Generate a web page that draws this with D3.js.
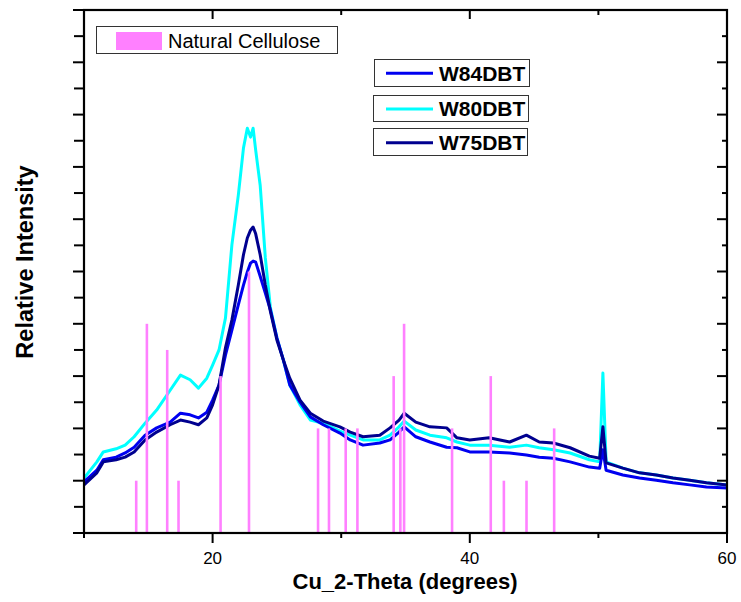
<!DOCTYPE html>
<html>
<head>
<meta charset="utf-8">
<script src="https://cdn.jsdelivr.net/npm/d3@7"></script>
<style>
  html, body { margin: 0; padding: 0; background: #fff; }
  svg { display: block; font-family: Arial, "Liberation Sans", sans-serif; }
</style>
</head>
<body>
<svg id="chart" width="741" height="602"></svg>
<script>
// 2-theta positions shared by the three patterns
const theta = [10, 11, 11.5, 12.5, 13.2, 13.9, 14.75, 15.65, 16.7, 17.5,
  18.25, 18.9, 19.55, 20, 20.5, 21, 21.5, 22, 22.4, 22.7,
  22.95, 23.15, 23.35, 23.7, 24.1, 24.5, 25, 25.5, 26, 26.8,
  27.6, 28.6, 29.9, 30.7, 31.7, 33, 33.8, 34.5, 34.9, 35.8,
  36.9, 38.2, 39, 40, 41.5, 43.1, 44.4, 45.4, 46.5, 47.8,
  49.3, 50.1, 50.35, 50.6, 51.9, 53.2, 54.5, 55.8, 57.1, 58.4, 60];

const w84 = [0.98, 1.20, 1.40, 1.45, 1.53, 1.64, 1.87, 2.01, 2.12, 2.29,
  2.26, 2.20, 2.31, 2.54, 2.83, 3.40, 3.88, 4.36, 4.74, 4.99,
  5.16, 5.20, 5.18, 4.91, 4.59, 4.26, 3.73, 3.31, 2.83, 2.50,
  2.22, 2.07, 1.91, 1.78, 1.68, 1.72, 1.78, 1.93, 2.03, 1.84,
  1.74, 1.64, 1.63, 1.55, 1.55, 1.53, 1.49, 1.45, 1.43, 1.36,
  1.26, 1.24, 1.59, 1.20, 1.11, 1.05, 1.01, 0.96, 0.92, 0.88, 0.86];

const w80 = [1.05, 1.36, 1.55, 1.61, 1.68, 1.84, 2.10, 2.35, 2.73, 3.02,
  2.93, 2.77, 2.96, 3.21, 3.50, 4.11, 5.51, 6.46, 7.36, 7.74,
  7.57, 7.74, 7.32, 6.65, 5.26, 4.30, 3.73, 3.31, 2.83, 2.45,
  2.16, 2.10, 1.95, 1.87, 1.78, 1.78, 1.87, 2.03, 2.14, 1.97,
  1.87, 1.82, 1.74, 1.68, 1.68, 1.64, 1.68, 1.63, 1.59, 1.53,
  1.40, 1.36, 3.06, 1.36, 1.24, 1.15, 1.11, 1.05, 1.01, 0.96, 0.92];

const w75 = [0.92, 1.15, 1.36, 1.40, 1.45, 1.55, 1.78, 1.93, 2.07, 2.16,
  2.12, 2.07, 2.20, 2.45, 2.83, 3.54, 4.07, 4.74, 5.32, 5.64,
  5.79, 5.85, 5.72, 5.32, 4.74, 4.23, 3.69, 3.31, 2.96, 2.54,
  2.29, 2.14, 2.03, 1.93, 1.84, 1.87, 2.01, 2.16, 2.29, 2.12,
  2.03, 2.01, 1.82, 1.78, 1.82, 1.74, 1.87, 1.74, 1.72, 1.63,
  1.47, 1.43, 2.03, 1.34, 1.24, 1.15, 1.11, 1.05, 1.01, 0.96, 0.92];

// reference pattern for natural cellulose (stick positions and heights)
const stickPos = [14.06, 14.89, 16.47, 17.35, 20.62, 22.83, 28.2, 29.05, 30.35, 31.26,
  34.08, 34.6, 34.89, 38.62, 41.63, 42.65, 44.41, 46.56];
const stickHeight = [1, 4, 3.5, 1, 3, 5, 2, 2, 2, 2,
  3, 2, 4, 2, 3, 1, 1, 2];

const seriesNames = ["W84DBT", "W80DBT", "W75DBT"];
const seriesColors = ["#0000f0", "#00ffff", "#00008f"];
const xTickLabels = [20, 40, 60];

const svg = d3.select("#chart");

const margin = { left: 84, right: 727, top: 10, bottom: 533 };

const x = d3.scaleLinear().domain([10, 60]).range([margin.left, margin.right]);
const y = d3.scaleLinear().domain([0, 10]).range([margin.bottom, margin.top]);

// Curves ----------
const line = d3.line()
  .x(d => x(d[0]))
  .y(d => y(d[1]));

const drawOrder = [1, 0, 2];
const allSeries = [w84, w80, w75];
drawOrder.forEach(i => {
  svg.append("path")
    .datum(theta.map((t, k) => [t, allSeries[i][k]]))
    .attr("fill", "none")
    .attr("stroke", seriesColors[i])
    .attr("stroke-width", 3)
    .attr("stroke-linejoin", "round")
    .attr("d", line);
});

// Sticks (drawn over the curves) ----------
svg.selectAll(".stick")
  .data(stickPos.map((p, i) => ({ pos: p, h: stickHeight[i] })))
  .enter()
  .append("line")
  .attr("class", "stick")
  .attr("x1", d => x(d.pos))
  .attr("x2", d => x(d.pos))
  .attr("y1", y(0))
  .attr("y2", d => y(d.h))
  .attr("stroke", "#ff80ff")
  .attr("stroke-width", 2.6);

// Axes ----------
const majorX = d3.range(20, 61, 20);
const minorX = [10, 30, 50];
const majorY = d3.range(0, 11, 1);
const minorY = d3.range(0.5, 10, 1);

const axisG = svg.append("g").attr("stroke", "#000");

// bottom (outward) and top (inward)
majorX.forEach(v => {
  axisG.append("line").attr("x1", x(v)).attr("x2", x(v)).attr("y1", y(0)).attr("y2", y(0) + 10).attr("stroke-width", 2);
  axisG.append("line").attr("x1", x(v)).attr("x2", x(v)).attr("y1", y(10)).attr("y2", y(10) + 9).attr("stroke-width", 2);
});
minorX.forEach(v => {
  axisG.append("line").attr("x1", x(v)).attr("x2", x(v)).attr("y1", y(0)).attr("y2", y(0) + 5).attr("stroke-width", 2);
  axisG.append("line").attr("x1", x(v)).attr("x2", x(v)).attr("y1", y(10)).attr("y2", y(10) + 5).attr("stroke-width", 2);
});

// left (outward) and right (inward)
majorY.forEach(v => {
  axisG.append("line").attr("x1", x(10) - 11).attr("x2", x(10)).attr("y1", y(v)).attr("y2", y(v)).attr("stroke-width", 2);
  axisG.append("line").attr("x1", x(60) - 10).attr("x2", x(60)).attr("y1", y(v)).attr("y2", y(v)).attr("stroke-width", 2);
});
minorY.forEach(v => {
  axisG.append("line").attr("x1", x(10) - 10).attr("x2", x(10)).attr("y1", y(v)).attr("y2", y(v)).attr("stroke-width", 2);
  axisG.append("line").attr("x1", x(60) - 5).attr("x2", x(60)).attr("y1", y(v)).attr("y2", y(v)).attr("stroke-width", 2);
});

// frame
axisG.append("rect")
  .attr("x", x(10))
  .attr("y", y(10))
  .attr("width", x(60) - x(10))
  .attr("height", y(0) - y(10))
  .attr("fill", "none")
  .attr("stroke-width", 2.2);

svg.selectAll(".xlab")
  .data(xTickLabels)
  .enter()
  .append("text")
  .attr("x", d => x(d))
  .attr("y", 564)
  .attr("text-anchor", "middle")
  .attr("font-size", 17)
  .text(d => d);

// Titles ----------
svg.append("text")
  .attr("x", 405)
  .attr("y", 589)
  .attr("text-anchor", "middle")
  .attr("font-size", 22)
  .attr("font-weight", "bold")
  .text("Cu_2-Theta (degrees)");

svg.append("text")
  .attr("transform", "translate(33,262) rotate(-90)")
  .attr("text-anchor", "middle")
  .attr("font-size", 23.5)
  .attr("font-weight", "bold")
  .text("Relative Intensity");

// Legends ----------
svg.append("rect")
  .attr("x", 96.5).attr("y", 26.5)
  .attr("width", 241).attr("height", 27)
  .attr("fill", "#fff").attr("stroke", "#333").attr("stroke-width", 1);
svg.append("rect")
  .attr("x", 116).attr("y", 32)
  .attr("width", 46).attr("height", 18)
  .attr("fill", "#ff80ff");
svg.append("text")
  .attr("x", 168).attr("y", 47.5)
  .attr("font-size", 20)
  .text("Natural Cellulose");

const legendBoxes = [
  { x: 374.5, y: 59.5, w: 155, h: 27, base: 80.5, ly: 73.3 },
  { x: 373.5, y: 95.5, w: 155, h: 26, base: 116, ly: 109 },
  { x: 373.5, y: 128.5, w: 154, h: 27, base: 150, ly: 142.7 }
];
legendBoxes.forEach((b, i) => {
  const g = svg.append("g");
  g.append("rect")
    .attr("x", b.x).attr("y", b.y)
    .attr("width", b.w).attr("height", b.h)
    .attr("fill", "#fff").attr("stroke", "#333").attr("stroke-width", 1);
  g.append("line")
    .attr("x1", 386).attr("x2", 433)
    .attr("y1", b.ly).attr("y2", b.ly)
    .attr("stroke", seriesColors[i]).attr("stroke-width", 3);
  g.append("text")
    .attr("x", 439).attr("y", b.base)
    .attr("font-size", 21)
    .attr("font-weight", "bold")
    .text(seriesNames[i]);
});
</script>
</body>
</html>
